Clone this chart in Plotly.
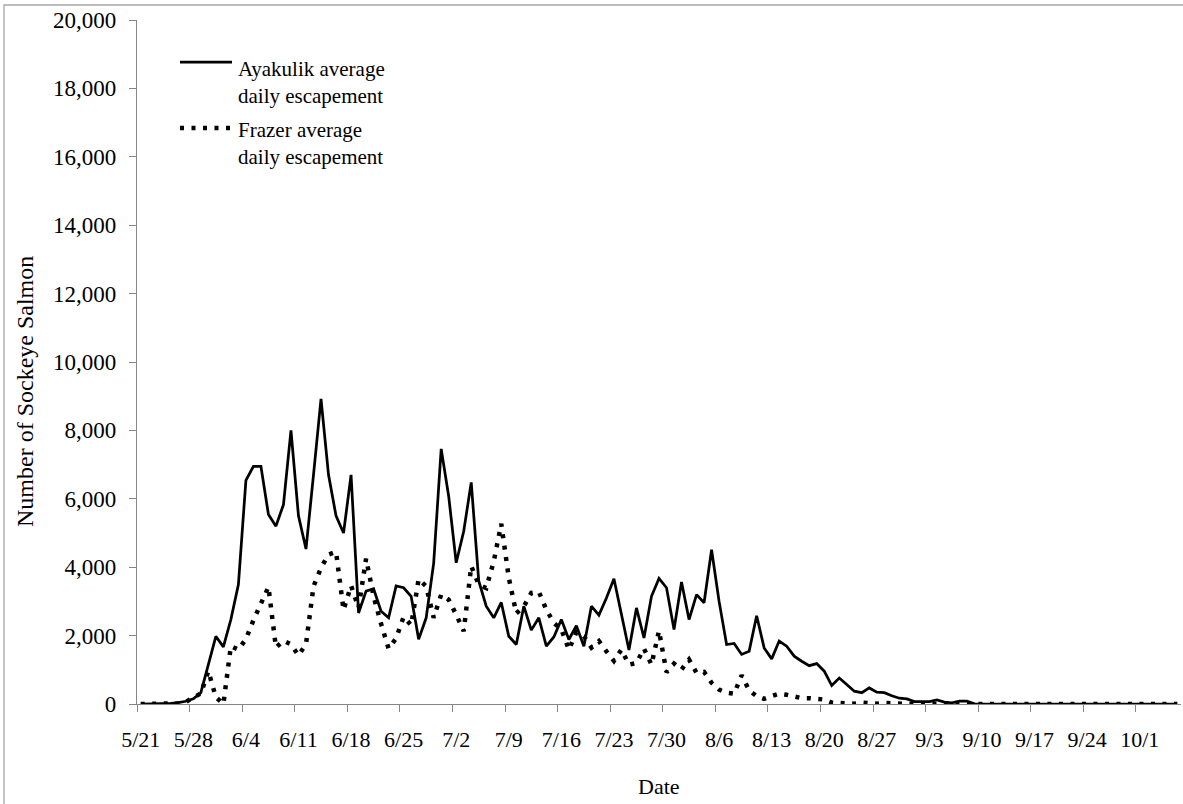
import pandas as pd
import plotly.graph_objects as go

# ---- data (daily values, 5/21 .. 10/6) ----
season_start = "2001-05-21"
n_days = 139
categories = [f"{d.month}/{d.day}" for d in pd.date_range(season_start, periods=n_days)]

ayakulik = [
    0, 0, 10, 10, 20, 40, 80, 150, 330, 1150,
    1980, 1670, 2470, 3490, 6540, 6950, 6950, 5540, 5200, 5830,
    8000, 5500, 4530, 6700, 8920, 6700, 5500, 5000, 6700, 2660,
    3300, 3370, 2710, 2520, 3450, 3400, 3150, 1890, 2520, 4120,
    7460, 6070, 4130, 5050, 6480, 3600, 2860, 2520, 2970, 1980,
    1740, 2860, 2160, 2520, 1690, 1960, 2470, 1885, 2290, 1690,
    2860, 2600, 3100, 3660, 2600, 1580, 2810, 1930, 3150, 3670,
    3400, 2180, 3570, 2470, 3200, 2960, 4510, 3000, 1740, 1770,
    1450, 1540, 2580, 1640, 1320, 1840, 1690, 1400, 1250, 1120,
    1180, 960, 540, 760, 570, 375, 330, 470, 345, 330,
    240, 170, 150, 70, 70, 70, 120, 55, 35, 85,
    85, 5, 0, 0, 0, 0, 0, 0, 0, 0,
    0, 0, 0, 0, 0, 0, 0, 0, 0, 0,
    0, 0, 0, 0, 0, 0, 0, 0, 0,
]

frazer = [
    0, 0, 0, 0, 10, 20, 60, 200, 310, 960,
    200, 0, 1690, 1590, 1900, 2450, 2970, 3420, 1650, 1850,
    1740, 1420, 1750, 3440, 3980, 4370, 4450, 2750, 3460, 2810,
    4250, 3150, 2340, 1620, 1920, 2550, 2300, 3650, 3440, 2520,
    3200, 3050, 2610, 2130, 4030, 3490, 3390, 4170, 5270, 3690,
    2650, 2850, 3250, 3280, 2760, 2370, 2180, 1590, 2100, 1980,
    1650, 1840, 1540, 1260, 1590, 1150, 1200, 1620, 1150, 2140,
    930, 1180, 1010, 1300, 910, 940, 620, 420, 330, 300,
    840, 400, 230, 150, 230, 300, 270, 210, 170, 170,
    150, 130, 40, 20, 10, 10, 40, 10, 10, 30,
    10, 0, 0, 0, 0, 0, 0, 0, 0, 0,
    0, 0, 0, 0, 0, 0, 0, 0, 0, 0,
    0, 0, 0, 0, 0, 0, 0, 0, 0, 0,
    0, 0, 0, 0, 0, 0, 0, 0, 0,
]

tick_labels = ["5/21", "5/28", "6/4", "6/11", "6/18", "6/25", "7/2", "7/9", "7/16",
               "7/23", "7/30", "8/6", "8/13", "8/20", "8/27", "9/3", "9/10", "9/17",
               "9/24", "10/1"]
y_ticks = list(range(0, 20001, 2000))

legend_texts = ["Ayakulik average<br>daily escapement", "Frazer average<br>daily escapement"]
series_names = [t.replace("<br>", " ") for t in legend_texts]

# ---- figure ----
W, H = 1183, 804
L, R, T, B = 137, 2, 20, 100
pw, ph = W - L - R, H - T - B


def px_x(px):
    return (px - L) / pw


def px_y(py):
    return (H - B - py) / ph


FONT = "Liberation Serif, Times New Roman, serif"
AXIS_GRAY = "#868686"
DOT = "4px,7.5px"

x_idx = list(range(len(categories)))

fig = go.Figure()
fig.add_trace(go.Scatter(
    x=x_idx, y=ayakulik, mode="lines", name=series_names[0],
    line=dict(color="black", width=2.75), showlegend=False,
))
fig.add_trace(go.Scatter(
    x=x_idx, y=frazer, mode="lines", name=series_names[1],
    line=dict(color="black", width=4.5, dash=DOT), showlegend=False,
))

fig.update_layout(
    width=W, height=H,
    margin=dict(l=L, r=R, t=T, b=B, autoexpand=False),
    paper_bgcolor="white", plot_bgcolor="white",
    font=dict(family=FONT, size=22, color="black"),
    xaxis=dict(
        range=[-0.5, len(categories) - 0.5],
        tickmode="array",
        tickvals=[categories.index(t) for t in tick_labels],
        ticktext=tick_labels,
        ticks="",
        ticklabelstandoff=15,
        tickfont=dict(size=22),
        showline=True, linecolor=AXIS_GRAY, linewidth=1.3,
        showgrid=False, zeroline=False,
        minor=dict(tick0=-0.5, dtick=7, ticks="outside", ticklen=7,
                   tickcolor=AXIS_GRAY, tickwidth=1.3, showgrid=False),
    ),
    yaxis=dict(
        range=[0, 20000],
        tickmode="array",
        tickvals=y_ticks,
        ticktext=[f"{v:,}" for v in y_ticks],
        ticks="outside", ticklen=7, tickcolor=AXIS_GRAY, tickwidth=1.3,
        ticklabelstandoff=8,
        tickfont=dict(size=23),
        showline=True, linecolor=AXIS_GRAY, linewidth=1.3,
        showgrid=False, zeroline=False,
    ),
)

# axis titles
fig.add_annotation(text="Number of Sockeye Salmon", xref="paper", yref="paper",
                   x=px_x(25), y=px_y(392), textangle=-90, showarrow=False,
                   xanchor="center", yanchor="middle", font=dict(size=24))
fig.add_annotation(text="Date", xref="paper", yref="paper",
                   x=px_x(659), y=px_y(786), showarrow=False,
                   xanchor="center", yanchor="middle", font=dict(size=22))

# custom legend (sample line + two-line label)
leg_x0, leg_x1, txt_x = px_x(180), px_x(232), px_x(236)
fig.add_shape(type="line", xref="paper", yref="paper", x0=leg_x0, x1=leg_x1,
              y0=px_y(62), y1=px_y(62), line=dict(color="black", width=2.75))
fig.add_shape(type="line", xref="paper", yref="paper", x0=leg_x0, x1=leg_x1,
              y0=px_y(128), y1=px_y(128), line=dict(color="black", width=4.5, dash=DOT))
for txt, yc in zip(legend_texts, [83, 143]):
    fig.add_annotation(text=txt, xref="paper", yref="paper", x=txt_x, y=px_y(yc),
                       xanchor="left", yanchor="middle", align="left", showarrow=False,
                       font=dict(size=21))

# chart-area border
fig.add_shape(type="rect", xref="paper", yref="paper",
              x0=px_x(4), x1=px_x(1300), y0=px_y(900), y1=px_y(5),
              line=dict(color="#a6a6a6", width=1.3), fillcolor="rgba(0,0,0,0)")

fig.write_html("out.html", config={"displayModeBar": False},
               post_script="document.body.style.margin='0';")
